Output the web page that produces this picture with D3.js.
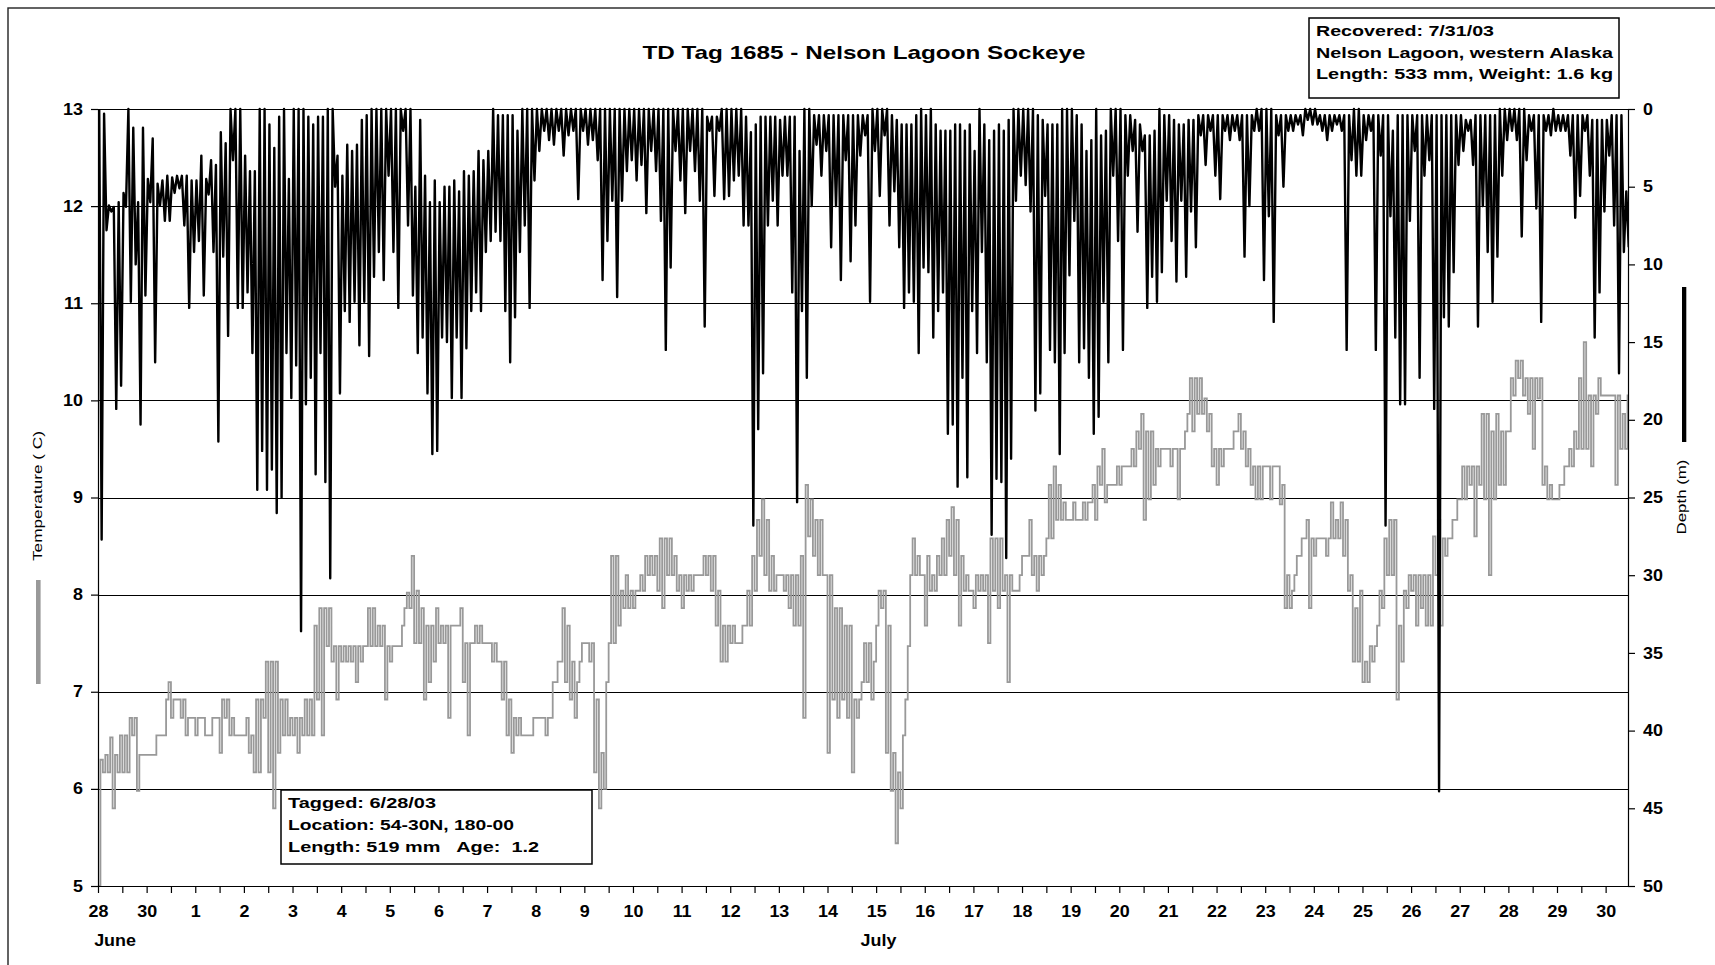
<!DOCTYPE html>
<html><head><meta charset="utf-8">
<script src="https://cdn.jsdelivr.net/npm/d3@7"></script>
<style>
body{margin:0;background:#fff;}
svg{display:block;font-family:"Liberation Sans",Arial,Helvetica,sans-serif;}
.tick text{transform-box:fill-box;}
</style></head><body>
<svg id="chart" width="1715" height="965"></svg>
<script>
// ---------------- DATA ----------------
const chartTitle = "TD Tag 1685 - Nelson Lagoon Sockeye";
const dayLabels = ["28","30","1","2","3","4","5","6","7","8","9","10","11","12","13","14","15","16","17","18","19","20","21","22","23","24","25","26","27","28","29","30"];
const monthLabels = [{text:"June", at:0.35},{text:"July", at:16.05}];
const tempTicks = [5,6,7,8,9,10,11,12,13];
const depthTicks = [0,5,10,15,20,25,30,35,40,45,50];
const taggedInfo = ["Tagged: 6/28/03","Location: 54-30N, 180-00","Length: 519 mm   Age:  1.2"];
const recoveredInfo = ["Recovered: 7/31/03","Nelson Lagoon, western Alaska","Length: 533 mm, Weight: 1.6 kg"];

// Each entry = readings within one tenth of an x-axis label interval (shallowest / deepest seen there), depth in m
const depthJun28toJul4 = [
[0,27.7],[0.3,7.8],[6.2,6.6],[6.3,19.3],[6,17.8],[5.4,6.3],[0,12.4],[1.2,10],[6,20.3],[1.2,12],
[4.5,6],[1.9,16.3],[4.8,6.2],[4.6,7.2],[4.3,7.2],[4.4,5.4],[4.3,5.1],[4.3,7.5],[4.3,12.8],[4.6,9.2],
[4.6,8.5],[3,12],[4.5,5.5],[3.3,9.2],[3.6,21.4],[1.5,9.5],[2.2,14.6],[0,3.3],[0,12.8],[0,12.8],
[3,11.8],[4,15.7],[4,24.5],[0,22],[0,24.5],[1,23.2],[2.5,26],[0.5,25],[0,15.7],[4.5,18.6],
[0,16.5],[0,33.6],[0,19],[0.5,17.3],[1,23.5],[0.5,15.7],[0.5,24],[0,30.2],[0,5],[3,18.3],
[4.3,13],[2.3,13.7],[2.7,12.4],[2.3,15.2],[0.7,12.4],[0.4,15.9],[0,10.8],[0,9.2],[0,11],[0,4.3],
[0,9.2],[0,12.8],[0,1.4],[0,7.5]];
const depthJul5toJul11 = [
[0,12],[5,15.7],[0.7,14.7],[4.3,18.3],[6,22.2],[4.6,22],[6,14.7],[5,15],[5,18.6],[4.6,14.7],[5.3,18.6],
[4,15.4],[4.3,13],[4,11.8],[2.7,13],[3.3,9.2],[2.7,8.5],[0,7.9],[0.4,8.5],[0.4,13],[0.4,16.3],
[0.4,13.4],[1.4,9.2],[0,7.5],[0,12.8],[0,4.6],[0,2.7],[0,1.4],[0,2],[0,2.3],[0,1.4],
[0,3],[0,1.7],[0,1.4],[0,5.8],[0,1.4],[0,2.3],[0,2],[0,3.3],[0,11],[0,8.5],
[0,5.9],[0,12.1],[0,5.9],[0,4],[0,3.3],[0,4.6],[0,3.6],[0,6.7],[0,2.7],[0,4],
[0,7.2],[0,15.5],[0,10.2],[0,2.7],[0,4.6],[0,6.7],[0,2.7],[0,4],[0,5.9],[0,14],
[0.5,1.4],[0.5,5.6],[0.5,1.4],[0,5.8]];
const depthJul11toJul17 = [
[0,5.6],[0,4.6],[0,4.3],[0,7.5],[0.5,7.5],[1.5,26.8],[1,20.6],[0.5,17],[0.5,7.5],[0.5,5.9],
[0.5,7.5],[0.7,4.3],[0.5,4.3],[0.5,11.8],[0.5,25.3],[2.7,13],[0,17.3],[0,6.25],[0.4,2.3],[0.4,4.3],
[0.4,2.7],[0.4,8.9],[0.4,6.25],[0.4,11],[0.4,3.3],[0.4,9.8],[0.4,7.5],[0.4,3],[0.4,1.7],[0.4,12.4],
[0,2.7],[0,5.6],[0,1.7],[0,7.5],[0.4,5.3],[0.7,8.9],[1,12.8],[1,11.8],[1,12.4],[0.4,15.7],
[0,10.2],[0.4,10.5],[0,14.7],[1,13],[1.4,11.8],[1.4,20.9],[1.4,20.3],[1,24.3],[1,17.3],[1.4,23.7],
[1,13],[2.7,15.7],[0,9.2],[1,16.3],[2,27.4],[1.4,23.8],[1,24],[1.4,28.9],[0.7,22.5],[0,5.9],
[0,4.3],[0,4.9],[0,6.6],[0,19.4],[0.4,18.3]];
const depthJul18toJul24 = [
[0.7,5.6],[1,15.5],[1,16.3],[1,22.2],[0,15.7],[0,10.7],[0,7.2],[0.4,16.3],[1,15.4],[2.7,17.3],
[2,20.9],[0,19.8],[1.7,12.4],[1.4,16.3],[0,4.3],[0,8.5],[0,15.5],[0.4,4.3],[0.4,2.7],[0.7,7.9],
[1,2.7],[1.7,12.8],[1.7,10.8],[1.4,12.4],[0,10.5],[0.4,5.9],[0.4,8.5],[0.7,11.1],[1,5.9],[1,10.8],
[0.7,6.6],[0.7,8.9],[0.4,1.7],[0.4,3.6],[0.4,1.4],[0.4,4.3],[0.4,5.8],[0.4,1.4],[0.4,2],[0.4,1.4],
[0.4,2],[0.4,9.5],[0.4,6.25],[0.4,1.4],[0,1.4],[0,11],[0,6.9],[0,13.7],[0.4,1.7],[0.4,5],
[0.4,1.4],[0.4,1.4],[0.4,1],[0.4,1.7],[0,0.7],[0,1],[0,1],[0.4,1.4],[0.4,2],[0.4,1.4],
[0.4,1],[0.4,1.4],[0.4,15.5],[0.4,3.3],[0,4.3]];
const depthJul24toJul30 = [
[0,4.3],[0.4,2],[0.4,1.4],[0.4,15.5],[0.4,3],[0.4,26.8],[0.4,6.9],[1.4,14.7],[0.4,19],[0.4,19],
[0.4,7.2],[0.4,2.7],[0.4,17.3],[0.4,4.3],[0.4,3.3],[0.4,19.3],[0.4,43.9],[0.4,13.4],[0.4,14],[0.4,10.5],
[0.4,3.6],[0.4,2.7],[0.7,1.4],[0.7,3.6],[0.4,14],[0.4,6.25],[0.4,9.2],[0.4,12.4],[0.4,9.5],[0,4.3],
[0,2],[0,1.4],[0,2],[0,8.2],[0,3.3],[0.4,1.4],[0.4,6.4],[0.4,13.7],[0.4,1.4],[0.4,1.7],
[0,1.4],[0.4,1.4],[0.4,1.4],[0.4,3],[0.4,7],[0.4,5.6],[0.4,1.4],[0.4,4.3],[0.7,14.7],[0.7,11.8],
[0.7,6.6],[0.7,3],[0.4,7.5],[0.4,17],[0.4,9.2],[5.3,8.9]];

// Temperature (C) readings per tenth of a label interval (low / high, or a single steady value)
const tempJun28toJul4 = [
[5.0,6.3],[6.17,6.35],[6.17,6.53],[5.8,6.35],[6.17,6.55],[6.17,6.55],[6.17,6.73],[6.55,6.73],[5.98,6.35],6.35,
6.35,6.35,6.55,6.55,[6.92,7.1],[6.73,6.92],6.92,[6.73,6.92],[6.55,6.73],6.73,
[6.55,6.73],6.73,6.55,[6.55,6.73],6.73,[6.37,6.92],[6.73,6.92],[6.55,6.73],6.55,6.55,
[6.55,6.73],[6.37,6.55],[6.17,6.92],[6.17,6.92],[6.73,7.31],[6.17,7.31],[5.8,7.31],[6.37,6.92],[6.55,6.92],[6.55,6.73],
[6.55,6.73],[6.37,6.73],[6.55,6.92],[6.55,6.92],[6.55,7.68],[6.92,7.86],[6.55,7.86],[7.47,7.86],[7.31,7.47],[6.92,7.47],
[7.31,7.47],[7.31,7.47],[7.31,7.47],[7.1,7.47],[7.31,7.47],[7.47,7.86],[7.47,7.86],[7.47,7.68],[7.47,7.68],[6.92,7.47],
[7.31,7.47],7.47,[7.47,7.68],[7.86,8.02]];
const tempJul5toJul11 = [
[7.86,8.4],[7.5,8.04],[7.5,7.86],[6.92,7.68],[7.1,7.68],[7.31,7.86],[7.5,7.68],[7.5,7.68],[6.73,7.68],7.68,
[7.68,7.86],[7.1,7.5],[6.55,7.5],[7.5,7.68],[7.5,7.68],7.5,7.5,[7.31,7.5],7.31,[6.92,7.31],
[6.55,6.92],[6.37,6.73],[6.55,6.73],6.55,6.55,[6.55,6.73],6.73,6.73,[6.55,6.73],[6.73,7.1],
[7.1,7.31],[7.31,7.86],[7.1,7.68],[6.92,7.31],[6.73,7.1],[7.31,7.5],7.5,[7.31,7.5],[6.17,6.92],[5.8,6.37],
[6.0,7.1],[7.5,8.4],[7.5,8.4],[7.68,8.04],[7.86,8.2],[7.86,8.04],[7.86,8.04],[8.04,8.2],[8.04,8.4],[8.2,8.4],
[8.2,8.4],[8.04,8.58],[7.86,8.58],[8.2,8.58],[8.2,8.4],[8.04,8.2],[7.86,8.2],[8.04,8.2],[8.04,8.2],8.2,
[8.2,8.4],[8.2,8.4],[8.04,8.4],[7.68,8.04],[7.31,7.68]];
const tempJul11toJul17 = [
[7.31,7.68],[7.5,7.68],7.5,[7.5,7.68],[7.68,8.04],[7.68,8.4],[8.04,8.77],[8.4,8.98],[8.2,8.77],[8.04,8.4],
[8.04,8.2],8.2,[8.04,8.2],[7.86,8.2],[7.68,8.2],[7.68,8.4],[6.73,9.13],[8.6,8.98],[8.4,8.77],[8.2,8.77],
8.2,[6.37,8.2],[6.92,7.86],[6.73,7.86],[6.92,7.68],[6.73,7.68],[6.17,6.92],[6.73,6.92],[7.1,7.5],[7.1,7.5],
[6.92,7.31],[7.68,8.04],[7.86,8.04],[6.37,7.68],[5.98,6.37],[5.44,6.17],[5.8,6.55],[6.92,7.47],[8.2,8.58],[8.2,8.4],
8.2,[7.68,8.4],[8.04,8.2],[8.04,8.4],[8.2,8.58],[8.2,8.77],[8.4,8.9],[8.2,8.77],[7.68,8.4],[8.04,8.2],
8.04,[7.86,8.2],[8.04,8.2],[8.04,8.2],[7.5,8.58],[8.04,8.58],[7.86,8.58],[8.04,8.2],[7.1,8.2],8.04,
[8.04,8.2],8.4,[8.4,8.77],[8.2,8.4],[8.04,8.4]];
const tempJul18toJul24 = [
[8.2,8.4],[8.58,9.13],[8.58,9.32],[8.77,9.13],[8.77,8.95],8.77,[8.77,8.95],8.77,[8.77,8.95],[8.77,8.95],
[8.95,9.13],[8.77,9.32],[9.13,9.5],[8.95,9.13],9.13,[9.13,9.32],[9.13,9.32],9.32,[9.32,9.5],[9.32,9.68],
[9.5,9.86],[8.77,9.68],[8.98,9.68],[9.13,9.5],[9.32,9.5],9.5,[9.5,9.32],9.5,[8.98,9.5],[9.5,9.68],
[9.86,10.23],[9.68,10.23],[9.86,10.23],[9.86,10.02],[9.68,9.86],[9.32,9.5],[9.13,9.5],[9.32,9.5],9.5,[9.5,9.68],
[9.68,9.86],[9.5,9.68],[9.32,9.5],[9.13,9.32],[8.98,9.32],[8.98,9.32],9.32,[8.98,9.32],9.32,[8.93,9.13],
[7.86,8.2],[7.86,8.04],[8.2,8.4],[8.4,8.58],[8.58,8.77],[7.86,8.58],[8.4,8.58],8.58,[8.58,8.4],[8.58,8.95],
[8.58,8.77],[8.58,8.95],[8.4,8.77],[8.04,8.2],[7.31,7.86]];
const tempJul24toJul30 = [
[7.31,8.04],[7.1,7.31],[7.1,7.47],[7.31,7.47],[7.68,8.04],[7.86,8.58],[8.2,8.77],[8.2,8.77],[6.92,7.68],[7.31,8.04],
[7.86,8.2],[8.04,8.2],[7.68,8.2],[7.86,8.2],[7.68,8.2],[7.68,8.6],[8.2,8.77],[7.68,8.58],[8.4,8.58],[8.58,8.77],
[8.77,8.98],[8.98,9.32],[8.98,9.32],[9.13,9.32],[8.6,9.32],[9.13,9.86],[8.98,9.86],[8.2,9.68],[8.98,9.86],[9.13,9.68],
[9.13,9.68],[9.68,10.23],[10.05,10.41],[10.23,10.41],[10.05,10.23],[9.86,10.23],[9.5,10.23],[10.02,10.23],[9.13,9.32],[8.98,9.13],
8.98,[8.98,9.13],[9.13,9.32],[9.32,9.5],[9.32,9.68],[9.5,10.23],[9.5,10.6],[9.5,10.05],[9.32,10.05],[9.86,10.23],
10.05,10.05,10.05,[9.13,10.05],[9.5,9.86],[9.5,10.05]];

// ---------------- CHART ----------------
const binW = 0.1;
const W = 1715, H = 965;
const plot = {left:98, right:1628, top:109, bottom:886};
const svg = d3.select("#chart");

const x = d3.scaleLinear().domain([0, 31.46]).range([plot.left, plot.right]);
const yT = d3.scaleLinear().domain([5, 13]).range([plot.bottom, plot.top]);
const yD = d3.scaleLinear().domain([0, 50]).range([plot.top, plot.bottom]);

function points(sections, step){
  const pts = []; let k = 0;
  sections.forEach(sec => sec.forEach(b => {
    const v = Array.isArray(b) ? b : [b];
    v.forEach((val, j) => pts.push([(k + (step ? j / v.length : (j + 0.5) / v.length)) * binW, val]));
    k++;
  }));
  if (step) pts.push([k * binW, pts[pts.length - 1][1]]);
  return pts;
}
const depthPts = points([depthJun28toJul4, depthJul5toJul11, depthJul11toJul17, depthJul18toJul24, depthJul24toJul30], false);
const tempPts = points([tempJun28toJul4, tempJul5toJul11, tempJul11toJul17, tempJul18toJul24, tempJul24toJul30], true);

// outer border
svg.append("rect").attr("x",8).attr("y",8).attr("width",W+20).attr("height",H+20)
  .attr("fill","none").attr("stroke","#222").attr("stroke-width",1.4);

// gridlines
svg.append("g").selectAll("line").data(tempTicks.filter(t => t > 5)).join("line")
  .attr("x1", plot.left).attr("x2", plot.right)
  .attr("y1", d => Math.round(yT(d)) + 0.5).attr("y2", d => Math.round(yT(d)) + 0.5)
  .attr("stroke", "#000").attr("stroke-width", 1);

// clip
svg.append("clipPath").attr("id","clip").append("rect")
  .attr("x", plot.left).attr("y", plot.top - 3).attr("width", plot.right - plot.left).attr("height", plot.bottom - plot.top + 6);

// temperature line
svg.append("path").attr("clip-path","url(#clip)")
  .attr("d", d3.line().x(d => x(d[0])).y(d => yT(d[1])).curve(d3.curveStepAfter)(tempPts))
  .attr("fill","none").attr("stroke","#999").attr("stroke-width",1.8);

// depth line
svg.append("path").attr("clip-path","url(#clip)")
  .attr("d", d3.line().x(d => x(d[0])).y(d => yD(d[1]))(depthPts))
  .attr("fill","none").attr("stroke","#000").attr("stroke-width",2.4).attr("stroke-linejoin","round");

// axes
function styleAxis(g, origin){
  g.select(".domain").attr("stroke","#000").attr("stroke-width",1.2);
  g.selectAll(".tick line").attr("stroke","#000").attr("stroke-width",1.2);
  g.selectAll(".tick text").attr("fill","#000").style("font-size","16px").style("font-weight","bold")
    .style("transform-origin", origin).style("transform","scaleX(1.12)");
}
const axL = svg.append("g").attr("transform",`translate(${plot.left},0)`)
  .call(d3.axisLeft(yT).tickValues(tempTicks).tickSize(7).tickSizeOuter(0).tickPadding(8).tickFormat(d3.format("d")));
styleAxis(axL, "right center");
const axR = svg.append("g").attr("transform",`translate(${plot.right},0)`)
  .call(d3.axisRight(yD).tickValues(depthTicks).tickSize(7).tickSizeOuter(0).tickPadding(8).tickFormat(d3.format("d")));
styleAxis(axR, "left center");
const xTicks = d3.range(0, 31.5, 0.5);
const axB = svg.append("g").attr("transform",`translate(0,${plot.bottom})`)
  .call(d3.axisBottom(x).tickValues(xTicks).tickSize(7).tickSizeOuter(0).tickPadding(13)
    .tickFormat(d => Number.isInteger(d) ? dayLabels[d] : ""));
styleAxis(axB, "center");

// month labels
svg.append("g").selectAll("text").data(monthLabels).join("text")
  .attr("x", d => x(d.at)).attr("y", 946).attr("text-anchor","middle")
  .style("font-size","16px").style("font-weight","bold")
  .style("transform-box","fill-box").style("transform-origin","center").style("transform","scaleX(1.12)")
  .text(d => d.text);

// title
svg.append("text").attr("x", 864).attr("y", 59).attr("text-anchor","middle")
  .attr("textLength", 443).attr("lengthAdjust","spacingAndGlyphs")
  .style("font-size","18.6px").style("font-weight","bold").text(chartTitle);

// axis titles + legend bars
svg.append("text").attr("transform","translate(42,496) rotate(-90)").attr("text-anchor","middle")
  .attr("textLength",130).attr("lengthAdjust","spacingAndGlyphs")
  .style("font-size","13px").text("Temperature ( C)");
svg.append("rect").attr("x",36).attr("y",580).attr("width",4.6).attr("height",104).attr("fill","#999");
svg.append("text").attr("transform","translate(1686,497) rotate(-90)").attr("text-anchor","middle")
  .attr("textLength",75).attr("lengthAdjust","spacingAndGlyphs")
  .style("font-size","13px").text("Depth (m)");
svg.append("rect").attr("x",1682).attr("y",287).attr("width",4.3).attr("height",155).attr("fill","#000");

// info boxes
function infoBox(bx, by, bw, bh, lines, baselines, lengths){
  const g = svg.append("g");
  g.append("rect").attr("x",bx).attr("y",by).attr("width",bw).attr("height",bh)
    .attr("fill","#fff").attr("stroke","#000").attr("stroke-width",1.5);
  g.selectAll("text").data(lines).join("text")
    .attr("x", bx + 7).attr("y", (d,i) => baselines[i])
    .attr("textLength", (d,i) => lengths[i]).attr("lengthAdjust","spacingAndGlyphs")
    .style("font-size","15.4px").style("font-weight","bold").style("white-space","pre")
    .text(d => d);
}
infoBox(1309, 18, 310, 80, recoveredInfo, [36, 57.5, 79], [178, 297, 297]);
infoBox(281, 790, 311, 74, taggedInfo, [808, 830, 852], [148, 226, 251]);
</script>
</body></html>
